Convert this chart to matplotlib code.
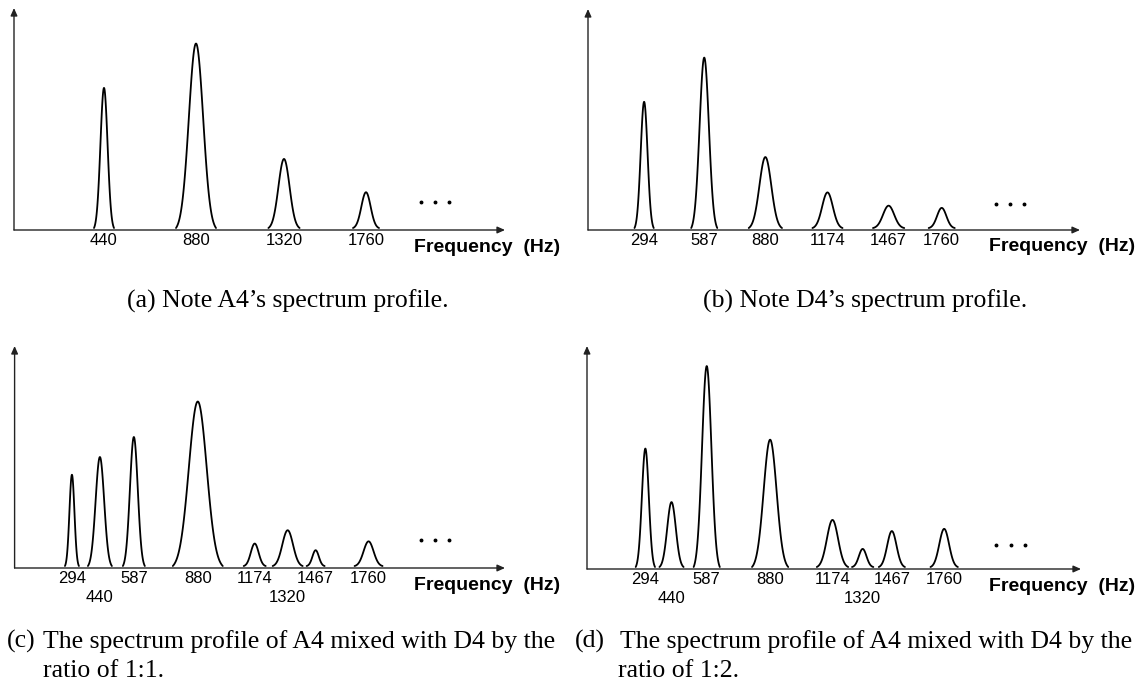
import numpy as np
import matplotlib.pyplot as plt

plt.rcParams['font.family'] = ['Liberation Sans', 'DejaVu Sans']

# peak centres (drawn position, Hz), heights (fraction of y-axis), half widths (Hz)
# (a) note A4
a_pos = [450, 910, 1350, 1760]
a_amp = [0.64, 0.84, 0.32, 0.17]
a_hw = [50, 100, 78, 65]
a_labels = ['440', '880', '1320', '1760']
a_rows = [0, 0, 0, 0]

# (b) note D4
b_pos = [280, 580, 885, 1195, 1500, 1765]
b_amp = [0.58, 0.78, 0.33, 0.17, 0.11, 0.10]
b_hw = [48, 65, 83, 75, 78, 65]
b_labels = ['294', '587', '880', '1174', '1467', '1760']
b_rows = [0, 0, 0, 0, 0, 0]

# (c) A4 + D4, 1:1
c_pos = [287, 427, 597, 917, 1202, 1367, 1507, 1772]
c_amp = [0.42, 0.50, 0.59, 0.75, 0.11, 0.17, 0.08, 0.12]
c_hw = [35, 60, 55, 125, 55, 75, 45, 70]
c_labels = ['294', '440', '587', '880', '1174', '1320', '1467', '1760']
c_rows = [0, 1, 0, 0, 0, 1, 0, 0]

# (d) A4 + D4, 1:2
d_pos = [290, 420, 595, 910, 1220, 1370, 1515, 1775]
d_amp = [0.54, 0.30, 0.91, 0.58, 0.22, 0.09, 0.17, 0.18]
d_hw = [48, 60, 65, 90, 78, 53, 65, 68]
d_labels = ['294', '440', '587', '880', '1174', '1320', '1467', '1760']
d_rows = [0, 1, 0, 0, 0, 1, 0, 0]

captions = ["(a) Note A4\u2019s spectrum profile.",
            "(b) Note D4\u2019s spectrum profile."]
cap_c = ["(c)", "The spectrum profile of A4 mixed with D4 by the", "ratio of 1:1."]
cap_d = ["(d)", "The spectrum profile of A4 mixed with D4 by the", "ratio of 1:2."]

W, H = 1135, 694
fig = plt.figure(figsize=(W / 100, H / 100), dpi=100)

XMAX = 2455
PX = 1.0 / 222  # one pixel in y data units


def make_axes(left, right, base, top):
    ax = fig.add_axes([left / W, (H - base) / H, (right - left) / W, (base - top) / H])
    ax.set_xlim(0, XMAX)
    ax.set_ylim(0, 1)
    ax.axis('off')
    return ax


def draw_panel(ax, pos, amp, hw, labels, rows, dots_y):
    arrow = dict(arrowstyle='-|>,head_length=0.45,head_width=0.2', lw=1.0,
                 color='#222222', shrinkA=0, shrinkB=0)
    ax.annotate('', xy=(1, 0), xytext=(0, 0), xycoords='axes fraction', arrowprops=arrow)
    ax.annotate('', xy=(0, 1), xytext=(0, 0), xycoords='axes fraction', arrowprops=arrow)

    lift = 2 * PX
    for p, h, w in zip(pos, amp, hw):
        xs = np.linspace(p - w, p + w, 120)
        sig = w / 2.8
        g = np.exp(-0.5 * ((xs - p) / sig) ** 2)
        g_end = np.exp(-0.5 * 2.8 ** 2)
        ys = lift + (h - lift) * (g - g_end) / (1 - g_end)
        ax.plot(xs, ys, color='black', lw=1.3, solid_capstyle='round', clip_on=False)

    for p, lab, r in zip(pos, labels, rows):
        ax.text(p, -3 * PX - r * 19 * PX, lab, ha='center', va='top', fontsize=12,
                color='black', clip_on=False)

    ax.plot([2035, 2105, 2175], [dots_y] * 3, 'o', color='black', ms=1.8, clip_on=False)
    ax.text(2000, -17 * PX, 'Frequency  (Hz)', ha='left', va='center', fontsize=14,
            fontweight='bold', color='black', clip_on=False)


ax_a = make_axes(14, 505, 230, 8)
draw_panel(ax_a, a_pos, a_amp, a_hw, a_labels, a_rows, 0.126)

ax_b = make_axes(588, 1080, 230, 9)
draw_panel(ax_b, b_pos, b_amp, b_hw, b_labels, b_rows, 0.118)

ax_c = make_axes(14.6, 505, 568, 346)
draw_panel(ax_c, c_pos, c_amp, c_hw, c_labels, c_rows, 0.126)

ax_d = make_axes(587, 1081, 569, 346)
draw_panel(ax_d, d_pos, d_amp, d_hw, d_labels, d_rows, 0.108)

# captions
serif = ['Liberation Serif', 'DejaVu Serif']
cap_fs = 18.5
fig.text(288 / W, 1 - 308 / H, captions[0], ha='center', va='baseline', fontsize=cap_fs, family=serif)
fig.text(865 / W, 1 - 308 / H, captions[1], ha='center', va='baseline', fontsize=cap_fs, family=serif)

fig.text(7 / W, 1 - 648 / H, cap_c[0], ha='left', va='baseline', fontsize=cap_fs, family=serif)
fig.text(43 / W, 1 - 648 / H, cap_c[1], ha='left', va='baseline', fontsize=cap_fs, family=serif)
fig.text(43 / W, 1 - 677 / H, cap_c[2], ha='left', va='baseline', fontsize=cap_fs, family=serif)

fig.text(575 / W, 1 - 648 / H, cap_d[0], ha='left', va='baseline', fontsize=cap_fs, family=serif)
fig.text(620 / W, 1 - 648 / H, cap_d[1], ha='left', va='baseline', fontsize=cap_fs, family=serif)
fig.text(618 / W, 1 - 677 / H, cap_d[2], ha='left', va='baseline', fontsize=cap_fs, family=serif)

fig.savefig('out.png', dpi=100)
